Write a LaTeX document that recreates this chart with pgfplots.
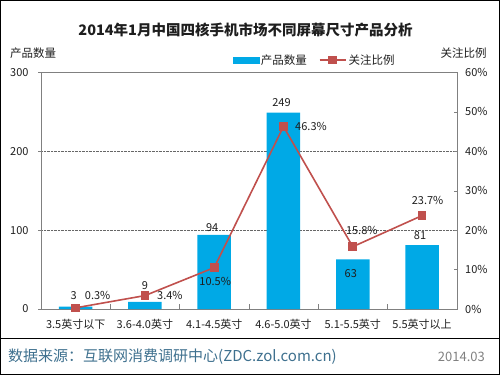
\documentclass[border=0pt]{standalone}
\usepackage{pgfplots}
\pgfplotsset{compat=1.18}
\usepackage{fontspec}
\setmainfont{Noto Sans CJK SC}
\definecolor{barblue}{RGB}{0,169,230}
\definecolor{linered}{RGB}{192,80,77}
\definecolor{axisgray}{RGB}{128,128,128}
\definecolor{foot}{RGB}{62,112,142}
\definecolor{txt}{RGB}{30,30,30}

\pgfplotsset{linelegend/.style={legend image code/.code={\draw[mark repeat=2,mark phase=2,##1] plot coordinates {(0pt,0pt) (13pt,0pt) (26pt,0pt)};}}}

\pgfplotstableread{
x y dx dy
0 3 -2 10.6
1 9 0 16
2 94 -2 7
3 249 -2 10.5
4 63 -2 -14
5 81 -2 9.3
}\bardata

\pgfplotstableread{
x y dx dy
0 0.3 22 12
1 3.4 25 0
2 10.5 1 -14
3 46.3 27.5 0
4 15.8 9 16
5 23.7 5.5 15.6
}\linedata

\begin{document}
\begin{tikzpicture}[x=1pt,y=1pt]
\useasboundingbox (0,0) rectangle (500,375);
\draw[black, line width=1pt] (0.5,0.5) rectangle (499.5,374.5);
\draw[black, line width=0.8pt] (0,37) -- (500,37);
\node[font=\fontsize{14.5}{16}\selectfont\bfseries, txt] at (245.5,345) {2014年1月中国四核手机市场不同屏幕尺寸产品分析};
\node[font=\fontsize{11.5}{13}\selectfont, txt] at (33,322) {产品数量};
\node[font=\fontsize{11.5}{13}\selectfont, txt] at (463.5,322) {关注比例};
\node[anchor=west, foot, font=\fontsize{15}{17}\selectfont, inner sep=0pt] at (8,18) {数据来源：互联网消费调研中心(ZDC.zol.com.cn)};
\node[anchor=east, axisgray, font=\fontsize{13}{15}\selectfont, inner sep=0pt] at (485,18) {2014.03};

\begin{axis}[
  at={(41pt,66pt)}, anchor=south west, scale only axis,
  width=415.7pt, height=236.5pt,
  xmin=-0.5, xmax=5.5, ymin=0, ymax=300,
  ybar, bar width=33.5pt,
  axis line style={axisgray},
  xtick={0,1,2,3,4,5},
  xticklabels={3.5英寸以下,3.6-4.0英寸,4.1-4.5英寸,4.6-5.0英寸,5.1-5.5英寸,5.5英寸以上},
  xtick style={draw=none},
  xtick pos=bottom,
  extra x ticks={0.5,1.5,2.5,3.5,4.5},
  extra x tick labels={},
  extra x tick style={grid=none, xtick style={draw=axisgray}, tick align=inside, major tick length=5pt},
  ytick={0,100,200,300},
  ytick pos=left,
  ytick style={draw=axisgray},
  tick align=outside,
  major tick length=3pt,
  ymajorgrids,
  grid style={densely dotted, black!60},
  tick label style={font=\fontsize{11}{13}\selectfont, txt},
  xticklabel style={yshift=-4pt},
  yticklabel style={xshift=-6pt},
  /pgf/number format/assume math mode=true,
]
\addplot[fill=barblue, draw=none,
  visualization depends on={\thisrow{dx} \as \dx},
  visualization depends on={\thisrow{dy} \as \dy},
  nodes near coords={\pgfmathprintnumber{\pgfplotspointmeta}},
  nodes near coords style={anchor=center, xshift=\dx pt, yshift=\dy pt, font=\fontsize{11}{13}\selectfont, txt, /pgf/number format/assume math mode=true},
] table[x=x,y=y] {\bardata};
\end{axis}

\begin{axis}[
  at={(41pt,66pt)}, anchor=south west, scale only axis,
  width=415.7pt, height=236.5pt,
  xmin=-0.5, xmax=5.5, ymin=0, ymax=60,
  axis x line=none,
  axis y line*=right,
  axis line style={axisgray},
  ytick={0,10,20,30,40,50,60},
  yticklabels={0\%,10\%,20\%,30\%,40\%,50\%,60\%},
  ytick style={draw=axisgray},
  tick align=inside,
  major tick length=3pt,
  tick label style={font=\fontsize{11}{13}\selectfont, txt},
  yticklabel style={xshift=5pt},
  legend columns=2,
  legend style={at={(0.658,1)}, anchor=center, yshift=12.5pt, draw=none, fill=none,
    font=\fontsize{11.5}{13}\selectfont, text=txt, /tikz/every even column/.append style={column sep=10pt}},
]
\addlegendimage{legend image code/.code={\fill[barblue] (0pt,-3pt) rectangle (26pt,3pt);}}
\addlegendentry{产品数量}
\addplot[linered, line width=1.6pt, mark=square*, mark size=3.5pt, mark options={fill=linered, solid},
  linelegend,
  visualization depends on={\thisrow{dx} \as \dx},
  visualization depends on={\thisrow{dy} \as \dy},
  nodes near coords={\pgfmathprintnumber[fixed,precision=1,fixed zerofill]{\pgfplotspointmeta}\%},
  nodes near coords style={anchor=center, xshift=\dx pt, yshift=\dy pt, font=\fontsize{11}{13}\selectfont, txt, /pgf/number format/assume math mode=true},
] table[x=x,y=y] {\linedata};
\addlegendentry{关注比例}
\end{axis}
\end{tikzpicture}
\end{document}
